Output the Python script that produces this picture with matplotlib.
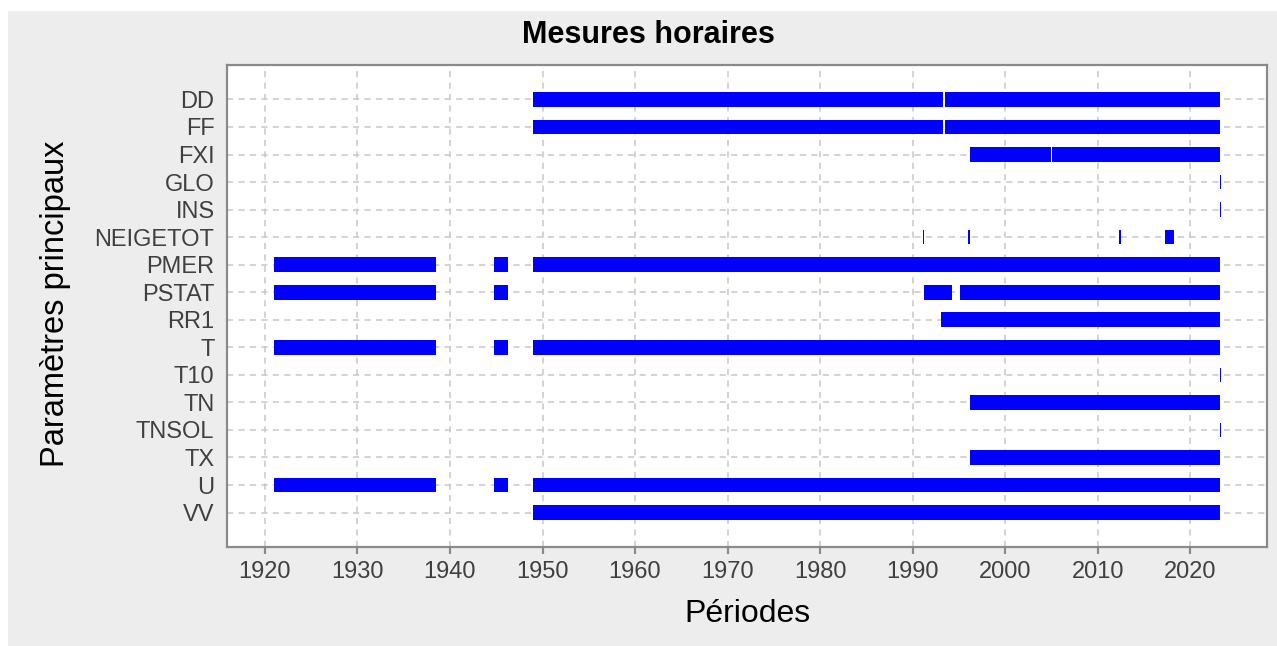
import matplotlib
matplotlib.use("Agg")
import matplotlib.pyplot as plt
from matplotlib.patches import Rectangle

# ---- data ----
params = ["DD", "FF", "FXI", "GLO", "INS", "NEIGETOT", "PMER", "PSTAT",
          "RR1", "T", "T10", "TN", "TNSOL", "TX", "U", "VV"]

# periods of available hourly data: parameter, start year, end year
seg_param = ["DD", "DD",
             "FF", "FF",
             "FXI", "FXI",
             "GLO", "INS",
             "NEIGETOT", "NEIGETOT", "NEIGETOT", "NEIGETOT",
             "PMER", "PMER", "PMER",
             "PSTAT", "PSTAT", "PSTAT", "PSTAT",
             "RR1",
             "T", "T", "T",
             "T10", "TN", "TNSOL", "TX",
             "U", "U", "U",
             "VV"]
seg_start = [1949.0, 1993.5,
             1949.0, 1993.5,
             1996.2, 2005.07,
             2023.17, 2023.17,
             1991.1, 1995.95, 2012.3, 2017.3,
             1921.0, 1944.8, 1949.0,
             1921.0, 1944.8, 1991.2, 1995.1,
             1993.05,
             1921.0, 1944.8, 1949.0,
             2023.17, 1996.2, 2023.17, 1996.2,
             1921.0, 1944.8, 1949.0,
             1949.0]
seg_end = [1993.27, 2023.25,
           1993.27, 2023.25,
           2004.96, 2023.25,
           2023.32, 2023.32,
           1991.22, 1996.15, 2012.5, 2018.27,
           1938.5, 1946.3, 2023.25,
           1938.5, 1946.3, 1994.25, 2023.25,
           2023.25,
           1938.5, 1946.3, 2023.25,
           2023.32, 2023.25, 2023.32, 2023.25,
           1938.5, 1946.3, 2023.25,
           2023.25]

xticks = [1920, 1930, 1940, 1950, 1960, 1970, 1980, 1990, 2000, 2010, 2020]

title = "Mesures horaires"
xlabel = "Périodes"
ylabel = "Paramètres principaux"

# ---- figure ----
plt.rcParams['font.family'] = ['Liberation Sans', 'DejaVu Sans']
W, H = 1277, 646
fig = plt.figure(figsize=(W / 100, H / 100), dpi=100, facecolor="white")
bg = "#ededed"
fig.patches.append(Rectangle((8 / W, 0), 1 - 8 / W, 1 - 11 / H,
                             transform=fig.transFigure, facecolor=bg,
                             edgecolor="none", zorder=-10))

ax = fig.add_axes([227 / W, 1 - 547 / H, (1267 - 227) / W, (547 - 65) / H])
ax.set_facecolor("white")

ypos = {p: i for i, p in enumerate(params)}
for p, s, e in zip(seg_param, seg_start, seg_end):
    ax.barh(ypos[p], e - s, left=s, height=0.53, color="#0000ff",
            linewidth=0, zorder=3)

ax.set_xlim(1915.9, 2028.3)
ax.set_ylim(len(params) - 1 + 1.25, -1.25)
ax.set_yticks(range(len(params)))
ax.set_yticklabels(params)
ax.set_xticks(xticks)

ax.grid(True, color="#c8c8c8", linestyle=(0, (4, 3.5)), linewidth=1.1, zorder=0)
ax.set_axisbelow(True)

for sp in ax.spines.values():
    sp.set_color("#8a8a8a")
    sp.set_linewidth(1.6)

ax.tick_params(axis="x", direction="out", length=5, width=1.6, color="#8a8a8a",
               labelsize=17, labelcolor="#404040", pad=5)
ax.tick_params(axis="y", length=0, labelsize=17, labelcolor="#404040", pad=9)

fig.text(648 / W, 1 - 43.3 / H, title, ha="center", va="baseline",
         fontsize=22, fontweight="bold", color="black")
fig.text(747 / W, 1 - 622 / H, xlabel, ha="center", va="baseline",
         fontsize=23, color="black")
fig.text(56 / W, 1 - 304 / H, ylabel, ha="center", va="center",
         rotation=90, fontsize=23.5, color="black")

fig.savefig("out.png", dpi=100, facecolor=fig.get_facecolor())
